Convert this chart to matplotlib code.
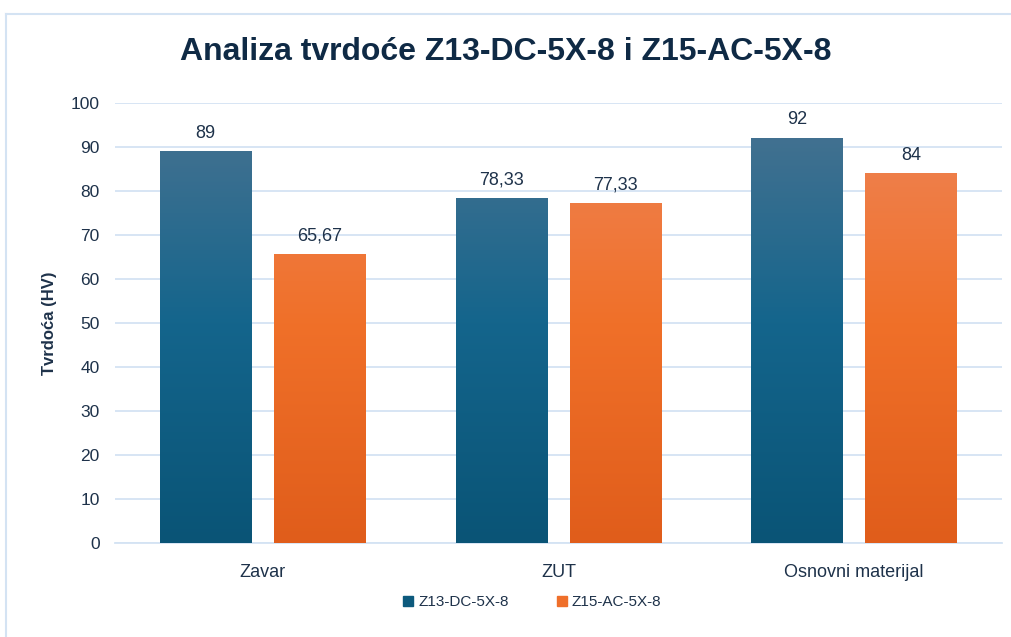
import matplotlib.pyplot as plt
import numpy as np
from matplotlib.colors import LinearSegmentedColormap
from matplotlib.lines import Line2D

categories = ['Zavar', 'ZUT', 'Osnovni materijal']
dc_values = [89, 78.33, 92]
ac_values = [65.67, 77.33, 84]
series_names = ['Z13-DC-5X-8', 'Z15-AC-5X-8']
value_labels_dc = ['89', '78,33', '92']
value_labels_ac = ['65,67', '77,33', '84']

text_color = '#1e324a'
grid_color = '#d4e3f3'

# gradients run bottom -> top
blue_cmap = LinearSegmentedColormap.from_list('blue_grad', ['#0a5476', '#14658c', '#4a7391'])
orange_cmap = LinearSegmentedColormap.from_list('orange_grad', ['#e05d1b', '#f07029', '#ee8558'])

plt.rcParams['font.family'] = ['Liberation Sans', 'DejaVu Sans']

fig = plt.figure(figsize=(10.12, 6.37), dpi=100)
ax = fig.add_axes([115 / 1012, 1 - 543 / 637, 887 / 1012, 440 / 637])

x = np.arange(len(categories))
width = 0.31
offset = 0.193


def gradient_bars(xpos, values, cmap):
    bars = ax.bar(xpos, values, width, color='none', edgecolor='none', zorder=3)
    grad = np.linspace(0, 1, 256).reshape(-1, 1)
    for b in bars:
        x0, w = b.get_x(), b.get_width()
        im = ax.imshow(grad, cmap=cmap, origin='lower', aspect='auto',
                       extent=[x0, x0 + w, 0, 100], zorder=3, interpolation='bicubic')
        im.set_clip_path(b)
    return bars


bars_dc = gradient_bars(x - offset, dc_values, blue_cmap)
bars_ac = gradient_bars(x + offset, ac_values, orange_cmap)

for bars, labels in [(bars_dc, value_labels_dc), (bars_ac, value_labels_ac)]:
    for b, lab in zip(bars, labels):
        ax.annotate(lab, (b.get_x() + b.get_width() / 2, b.get_height()), xytext=(0, 7),
                    textcoords='offset points', ha='center', va='bottom', fontsize=13,
                    color=text_color)

ax.set_xlim(-0.5, 2.5)
ax.set_ylim(0, 100)
ax.set_yticks(np.arange(0, 101, 10))
ax.set_xticks(x)
ax.set_xticklabels(categories)
ax.yaxis.grid(True, color=grid_color, linewidth=1.3, zorder=0)
ax.set_axisbelow(True)
for s in ['top', 'right', 'left']:
    ax.spines[s].set_visible(False)
ax.spines['bottom'].set_color(grid_color)
ax.spines['bottom'].set_linewidth(1.3)
ax.tick_params(axis='both', length=0, labelcolor=text_color)
ax.tick_params(axis='y', pad=11, labelsize=12.5)
ax.tick_params(axis='x', pad=15, labelsize=13)

ax.set_ylabel('Tvrdoća (HV)', fontsize=12, fontweight='bold', color=text_color, labelpad=10)

fig.text(0.5, 1 - 52 / 637, 'Analiza tvrdoće Z13-DC-5X-8 i Z15-AC-5X-8',
         ha='center', va='center', fontsize=23, fontweight='bold', color='#0f2a45',
         family=['Liberation Sans Narrow', 'Liberation Sans', 'DejaVu Sans'])

handles = [Line2D([], [], marker='s', linestyle='none', markersize=7, color='#0d5a7d'),
           Line2D([], [], marker='s', linestyle='none', markersize=7, color='#ef6f2a')]
fig.legend(handles, series_names, loc='center', bbox_to_anchor=(531 / 1012, 1 - 602 / 637), ncol=2,
           frameon=False, fontsize=11, labelcolor=text_color, handletextpad=0.15,
           columnspacing=3.0, handlelength=1.0)

# chart frame lines along the top and left
fig.add_artist(Line2D([6 / 1012, 1], [1 - 14 / 637, 1 - 14 / 637], color=grid_color, linewidth=1.5))
fig.add_artist(Line2D([6 / 1012, 6 / 1012], [0, 1 - 14 / 637], color=grid_color, linewidth=1.5))

fig.savefig('out.png', dpi=100)
